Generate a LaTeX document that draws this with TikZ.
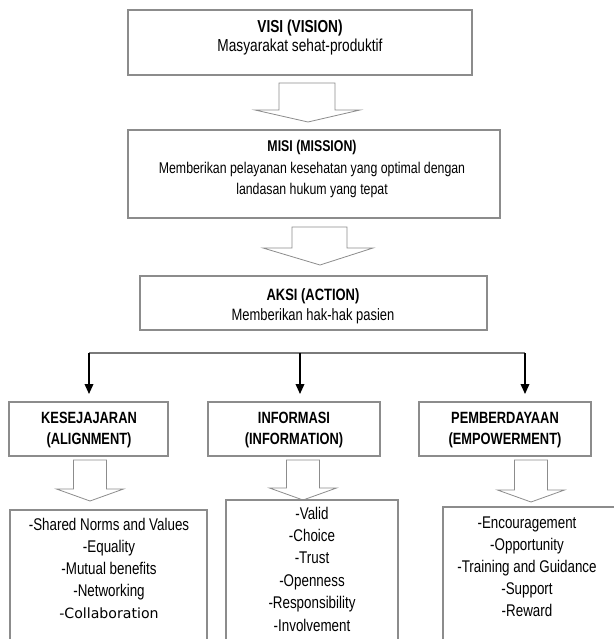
\documentclass[tikz,border=0pt]{standalone}
\usepackage{fontspec}
\setmainfont{Liberation Sans}[FakeStretch=0.79]
\newfontfamily\collabfont{DejaVu Sans}
\usetikzlibrary{arrows.meta,fit}
\definecolor{boxgray}{HTML}{8C8C8C}
\definecolor{linegray}{HTML}{7A7A7A}
\tikzset{
  box/.style={draw=boxgray, line width=0.8pt, inner sep=0pt, fill=white},
  blockarrow/.style={draw=boxgray, line width=0.6pt, fill=white, line join=miter},
  txt/.style 2 args={align=center, inner sep=0pt, font=\fontsize{#1}{#2}\selectfont},
  hline/.style={draw=linegray, line width=0.8pt},
  varrow/.style={draw=black, line width=1.1pt, -{Triangle[length=7.5pt,width=6.5pt]}}
}
\begin{document}
\begin{tikzpicture}[x=0.75pt,y=-0.75pt]
\useasboundingbox (0,0) rectangle (614,639);
\clip (0,0) rectangle (614,639);

% main boxes
\node[box, fit={(128,10) (472,75)}] (vis) {};
\node[box, fit={(128,130) (500,218)}] (mis) {};
\node[box, fit={(140,276) (487,330)}] (aks) {};

\node[txt={13pt}{14.25pt}] (vist) at (300,38) {\textbf{VISI (VISION)}\\Masyarakat sehat-produktif};
\node[txt={11.7pt}{16pt}] (mist) at (312,169) {\textbf{MISI (MISSION)}\\Memberikan pelayanan kesehatan yang optimal dengan\\landasan hukum yang tepat};
\node[txt={12.3pt}{15pt}] (akst) at (313,306) {\textbf{AKSI (ACTION)}\\Memberikan hak-hak pasien};

% block arrows between main boxes
\draw[blockarrow] (279,83) -- (279,110) -- (255,110) -- (308,122) -- (360,110) -- (335,110) -- (335,83) -- cycle;
\draw[blockarrow] (292,227) -- (292,248) -- (263,248) -- (320,265) -- (373,248) -- (347,248) -- (347,227) -- cycle;

% branch line and arrows
\coordinate (h1) at (89,353);
\coordinate (h2) at (300,353);
\coordinate (h3) at (525,353);
\coordinate (t1) at (89,394);
\coordinate (t2) at (300,394);
\coordinate (t3) at (525,394);
\draw[hline] (h1) -- (h3);
\draw[varrow] (h1) -- (t1);
\draw[varrow] (h2) -- (t2);
\draw[varrow] (h3) -- (t3);

% second row boxes
\node[box, fit={(9,402) (168,456)}] (k1) {};
\node[box, fit={(208,402) (380,456)}] (k2) {};
\node[box, fit={(419,402) (591,456)}] (k3) {};
\node[txt={12.2pt}{15.75pt}] (k1t) at (89,430) {\textbf{KESEJAJARAN}\\\textbf{(ALIGNMENT)}};
\node[txt={12.2pt}{15.75pt}] (k2t) at (294,430) {\textbf{INFORMASI}\\\textbf{(INFORMATION)}};
\node[txt={12.2pt}{15.75pt}] (k3t) at (505,430) {\textbf{PEMBERDAYAAN}\\\textbf{(EMPOWERMENT)}};

% small block arrows
\draw[blockarrow] (73.5,460) -- (73.5,489) -- (56.5,489) -- (90,501) -- (123.5,489) -- (106.5,489) -- (106.5,460) -- cycle;
\draw[blockarrow] (286.5,460) -- (286.5,488) -- (269.5,488) -- (303,500) -- (336.5,488) -- (319.5,488) -- (319.5,460) -- cycle;
\draw[blockarrow] (514.5,460) -- (514.5,490) -- (497.5,490) -- (531,502) -- (564.5,490) -- (547.5,490) -- (547.5,460) -- cycle;

% bottom boxes (cut by the page edge)
\node[box, fit={(10,510) (207,660)}] (b1) {};
\node[box, fit={(226,500) (398,660)}] (b2) {};
\node[box, fit={(443,507) (622,660)}] (b3) {};

\node[txt={12.7pt}{16.5pt}] (b1t) at (109,568) {-Shared Norms and Values\\-Equality\\-Mutual benefits\\-Networking\\{\collabfont\fontsize{10.6}{16.5}\selectfont -Collaboration}};
\node[txt={12.7pt}{16.8pt}] (b2t) at (312,569) {-Valid\\-Choice\\-Trust\\-Openness\\-Responsibility\\-Involvement};
\node[txt={12.7pt}{16.5pt}] (b3t) at (527,567) {-Encouragement\\-Opportunity\\-Training and Guidance\\-Support\\-Reward};
\end{tikzpicture}
\end{document}
